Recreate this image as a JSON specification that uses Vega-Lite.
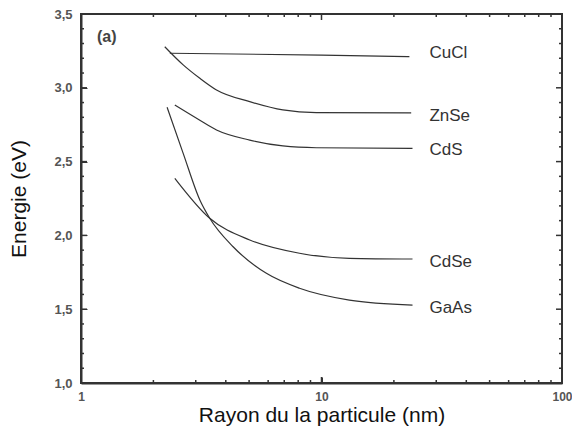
{
  "$schema": "https://vega.github.io/schema/vega-lite/v6.json",
  "width": 481,
  "height": 369,
  "autosize": "none",
  "padding": {"left": 81, "top": 14, "right": 10, "bottom": 49},
  "background": "white",
  "config": {"view": {"stroke": null}, "font": "Liberation Sans"},
  "datasets": {
    "curves": [
      {"s": "CuCl", "r": 2.34, "e": 3.234},
      {"s": "CuCl", "r": 10, "e": 3.222},
      {"s": "CuCl", "r": 23.2, "e": 3.211},
      {"s": "ZnSe", "r": 2.23, "e": 3.278},
      {"s": "ZnSe", "r": 2.66, "e": 3.155},
      {"s": "ZnSe", "r": 3.12, "e": 3.064},
      {"s": "ZnSe", "r": 3.66, "e": 2.985},
      {"s": "ZnSe", "r": 5.03, "e": 2.906},
      {"s": "ZnSe", "r": 6.91, "e": 2.85},
      {"s": "ZnSe", "r": 9.51, "e": 2.832},
      {"s": "ZnSe", "r": 23.6, "e": 2.83},
      {"s": "CdS", "r": 2.455, "e": 2.883},
      {"s": "CdS", "r": 3.12, "e": 2.78},
      {"s": "CdS", "r": 3.66, "e": 2.714},
      {"s": "CdS", "r": 5.03, "e": 2.646},
      {"s": "CdS", "r": 6.91, "e": 2.606},
      {"s": "CdS", "r": 9.51, "e": 2.594},
      {"s": "CdS", "r": 23.9, "e": 2.59},
      {"s": "GaAs", "r": 2.28, "e": 2.868},
      {"s": "GaAs", "r": 2.66, "e": 2.556},
      {"s": "GaAs", "r": 3.12, "e": 2.24},
      {"s": "GaAs", "r": 3.43, "e": 2.116},
      {"s": "GaAs", "r": 4.29, "e": 1.923},
      {"s": "GaAs", "r": 5.9, "e": 1.743},
      {"s": "GaAs", "r": 8.1, "e": 1.642},
      {"s": "GaAs", "r": 13.06, "e": 1.562},
      {"s": "GaAs", "r": 23.9, "e": 1.528},
      {"s": "CdSe", "r": 2.455, "e": 2.387},
      {"s": "CdSe", "r": 3.43, "e": 2.116},
      {"s": "CdSe", "r": 5.03, "e": 1.969},
      {"s": "CdSe", "r": 8.1, "e": 1.879},
      {"s": "CdSe", "r": 13.06, "e": 1.845},
      {"s": "CdSe", "r": 23.9, "e": 1.84}
    ],
    "names": [
      {"t": "CuCl", "r": 28.1, "e": 3.236},
      {"t": "ZnSe", "r": 28.1, "e": 2.809},
      {"t": "CdS", "r": 28.1, "e": 2.579},
      {"t": "CdSe", "r": 28.1, "e": 1.82},
      {"t": "GaAs", "r": 28.1, "e": 1.508}
    ],
    "panel": [{"t": "(a)", "r": 1.165, "e": 3.344}],
    "xmajor": [{"v": 1}, {"v": 10}, {"v": 100}],
    "xminor": [{"v": 2}, {"v": 3}, {"v": 4}, {"v": 5}, {"v": 6}, {"v": 7}, {"v": 8}, {"v": 9}, {"v": 20}, {"v": 30}, {"v": 40}, {"v": 50}, {"v": 60}, {"v": 70}, {"v": 80}, {"v": 90}],
    "ymajor": [{"v": 1}, {"v": 1.5}, {"v": 2}, {"v": 2.5}, {"v": 3}, {"v": 3.5}],
    "yminor": [{"v": 1.1}, {"v": 1.2}, {"v": 1.3}, {"v": 1.4}, {"v": 1.6}, {"v": 1.7}, {"v": 1.8}, {"v": 1.9}, {"v": 2.1}, {"v": 2.2}, {"v": 2.3}, {"v": 2.4}, {"v": 2.6}, {"v": 2.7}, {"v": 2.8}, {"v": 2.9}, {"v": 3.1}, {"v": 3.2}, {"v": 3.3}, {"v": 3.4}]
  },
  "layer": [
    {
      "data": {"name": "curves"},
      "mark": {"type": "line", "interpolate": "monotone", "color": "#333", "strokeWidth": 1.2},
      "encoding": {
        "x": {
          "field": "r", "type": "quantitative",
          "scale": {"type": "log", "domain": [1, 100]},
          "axis": {
            "orient": "bottom",
            "values": [1, 10, 100],
            "format": "d",
            "tickSize": -6, "tickColor": "#333",
            "domainColor": "#333", "domainWidth": 2,
            "grid": false, "labelFlush": false, "labelOverlap": false,
            "labelPadding": 14, "labelFontSize": 12, "labelFontWeight": "bold", "labelColor": "#555",
            "title": "Rayon du la particule (nm)", "titleFontSize": 21, "titleFontWeight": "normal",
            "titleColor": "#111", "titlePadding": 2
          }
        },
        "y": {
          "field": "e", "type": "quantitative",
          "scale": {"domain": [1, 3.5], "nice": false, "zero": false},
          "axis": {
            "orient": "left",
            "values": [1, 1.5, 2, 2.5, 3, 3.5],
            "labelExpr": "replace(format(datum.value,'.1f'),'.',',')",
            "tickSize": -6, "tickColor": "#333",
            "domainColor": "#333", "domainWidth": 2,
            "grid": false, "labelOverlap": false, "labelFlush": false,
            "labelPadding": 15, "labelFontSize": 13, "labelFontWeight": "bold", "labelColor": "#555",
            "title": "Energie (eV)", "titleFontSize": 21, "titleFontWeight": "normal",
            "titleColor": "#111", "titlePadding": 24
          }
        },
        "detail": {"field": "s"}
      }
    },
    {
      "data": {"name": "panel"},
      "mark": {"type": "rect", "fillOpacity": 0, "stroke": "#333", "strokeWidth": 2},
      "encoding": {
        "x": {"datum": 1, "type": "quantitative"},
        "x2": {"datum": 100},
        "y": {"datum": 1, "type": "quantitative"},
        "y2": {"datum": 3.5}
      }
    },
    {
      "data": {"name": "xmajor"},
      "mark": {"type": "rule", "color": "#333", "strokeWidth": 1.5},
      "encoding": {"x": {"field": "v", "type": "quantitative"}, "y": {"datum": 1, "type": "quantitative"}, "y2": {"datum": 1.0407}}
    },
    {
      "data": {"name": "xmajor"},
      "mark": {"type": "rule", "color": "#333", "strokeWidth": 1.5},
      "encoding": {"x": {"field": "v", "type": "quantitative"}, "y": {"datum": 3.5, "type": "quantitative"}, "y2": {"datum": 3.4593}}
    },
    {
      "data": {"name": "xminor"},
      "mark": {"type": "rule", "color": "#333", "strokeWidth": 1.5},
      "encoding": {"x": {"field": "v", "type": "quantitative"}, "y": {"datum": 1, "type": "quantitative"}, "y2": {"datum": 1.0203}}
    },
    {
      "data": {"name": "xminor"},
      "mark": {"type": "rule", "color": "#333", "strokeWidth": 1.5},
      "encoding": {"x": {"field": "v", "type": "quantitative"}, "y": {"datum": 3.5, "type": "quantitative"}, "y2": {"datum": 3.4797}}
    },
    {
      "data": {"name": "ymajor"},
      "mark": {"type": "rule", "color": "#333", "strokeWidth": 1.5},
      "encoding": {"y": {"field": "v", "type": "quantitative"}, "x": {"datum": 1, "type": "quantitative"}, "x2": {"datum": 1.0591}}
    },
    {
      "data": {"name": "ymajor"},
      "mark": {"type": "rule", "color": "#333", "strokeWidth": 1.5},
      "encoding": {"y": {"field": "v", "type": "quantitative"}, "x": {"datum": 100, "type": "quantitative"}, "x2": {"datum": 94.42}}
    },
    {
      "data": {"name": "yminor"},
      "mark": {"type": "rule", "color": "#333", "strokeWidth": 1.5},
      "encoding": {"y": {"field": "v", "type": "quantitative"}, "x": {"datum": 1, "type": "quantitative"}, "x2": {"datum": 1.0291}}
    },
    {
      "data": {"name": "yminor"},
      "mark": {"type": "rule", "color": "#333", "strokeWidth": 1.5},
      "encoding": {"y": {"field": "v", "type": "quantitative"}, "x": {"datum": 100, "type": "quantitative"}, "x2": {"datum": 97.17}}
    },
    {
      "data": {"name": "names"},
      "mark": {"type": "text", "align": "left", "baseline": "middle", "fontSize": 17, "color": "#333"},
      "encoding": {
        "x": {"field": "r", "type": "quantitative"},
        "y": {"field": "e", "type": "quantitative"},
        "text": {"field": "t"}
      }
    },
    {
      "data": {"name": "panel"},
      "mark": {"type": "text", "align": "left", "baseline": "middle", "fontSize": 16, "fontWeight": "bold", "color": "#444"},
      "encoding": {
        "x": {"field": "r", "type": "quantitative"},
        "y": {"field": "e", "type": "quantitative"},
        "text": {"field": "t"}
      }
    }
  ]
}
